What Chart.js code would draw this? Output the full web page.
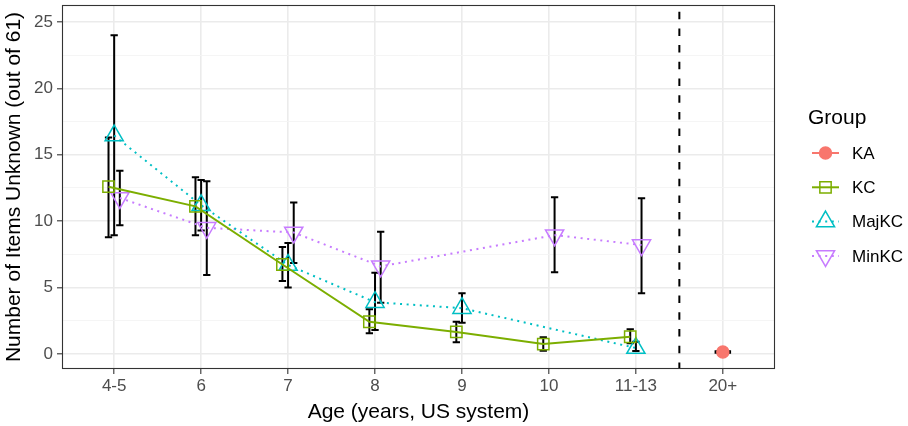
<!DOCTYPE html>
<html><head><meta charset="utf-8">
<script src="https://cdn.jsdelivr.net/npm/chart.js@4.4.0/dist/chart.umd.min.js"></script>
<style>html,body{margin:0;padding:0;background:#fff;}#wrap{width:908px;height:426px;}</style>
</head><body><div id="wrap"><canvas id="c" width="908" height="426"></canvas></div>
<script>
// ---- data ----
const categories = ['4-5', '6', '7', '8', '9', '10', '11-13', '20+'];
const groups = ['KA', 'KC', 'MajKC', 'MinKC'];
const yTicks = [0, 5, 10, 15, 20, 25];

const kaMean  = [null, null, null, null, null, null, null, 0.15];
const kaLow   = [null, null, null, null, null, null, null, 0.1];
const kaHigh  = [null, null, null, null, null, null, null, 0.2];

const kcMean  = [12.6, 11.12, 6.74, 2.43, 1.66, 0.75, 1.3, null];
const kcLow   = [8.8, 8.95, 5.5, 1.56, 0.88, 0.25, 0.8, null];
const kcHigh  = [16.3, 13.3, 8.05, 3.36, 2.43, 1.26, 1.86, null];

const majMean = [16.45, 11.2, 6.7, 3.9, 3.45, null, 0.45, null];
const majLow  = [8.95, 9.3, 5.0, 1.8, 2.36, null, 0.23, null];
const majHigh = [24.0, 13.1, 8.35, 6.12, 4.57, null, 0.93, null];

const minMean = [11.75, 9.5, 9.15, 6.6, null, 8.95, 8.2, null];
const minLow  = [9.7, 5.95, 6.85, 3.86, null, 6.15, 4.57, null];
const minHigh = [13.8, 13.0, 11.4, 9.21, null, 11.8, 11.72, null];

const separatorAt = 7.5; // between '11-13' and '20+'

// ---- styling ----
const FONT = '"Liberation Sans", Arial, Helvetica, sans-serif';
const COLORS = {KA: '#F8766D', KC: '#7CAE00', MajKC: '#00BFC4', MinKC: '#C77CFF'};
const DODGE = {KA: 0, KC: -0.065, MajKC: 0, MinKC: 0.065};
const CAP = {KA: 0.095, KC: 0.042, MajKC: 0.042, MinKC: 0.042};

function toPoints(means, off) {
  const out = [];
  means.forEach((v, i) => { if (v !== null) out.push({x: i + 1 + off, y: v}); });
  return out;
}

const series = [
  {name: 'KA', mean: kaMean, low: kaLow, high: kaHigh, style: 'circle', radius: 6, rot: 0, fill: COLORS.KA, dash: []},
  {name: 'KC', mean: kcMean, low: kcLow, high: kcHigh, style: 'rect', radius: 8, rot: 0, fill: 'rgba(0,0,0,0)', dash: []},
  {name: 'MajKC', mean: majMean, low: majLow, high: majHigh, style: 'triangle', radius: 10.5, rot: 0, fill: 'rgba(0,0,0,0)', dash: [2, 4.6]},
  {name: 'MinKC', mean: minMean, low: minLow, high: minHigh, style: 'triangle', radius: 10.5, rot: 180, fill: 'rgba(0,0,0,0)', dash: [2, 4.6]}
];

const datasets = series.map(s => ({
  label: s.name,
  data: toPoints(s.mean, DODGE[s.name]),
  showLine: true,
  borderColor: COLORS[s.name],
  backgroundColor: COLORS[s.name],
  borderWidth: 2,
  borderDash: s.dash,
  borderCapStyle: 'butt',
  tension: 0,
  pointStyle: s.style,
  pointRadius: s.radius,
  pointRotation: s.rot,
  pointBorderWidth: 1.5,
  pointBorderColor: COLORS[s.name],
  pointBackgroundColor: s.fill,
  pointHoverRadius: s.radius
}));

const errorBarPlugin = {
  id: 'errorBars',
  beforeDatasetsDraw(chart) {
    const {ctx, scales: {x, y}} = chart;
    ctx.save();
    ctx.strokeStyle = '#000';
    ctx.lineWidth = 2;
    ctx.lineCap = 'butt';
    series.forEach(s => {
      s.low.forEach((lo, i) => {
        const hi = s.high[i];
        if (lo === null || hi === null) return;
        const xc = i + 1 + DODGE[s.name];
        const px = x.getPixelForValue(xc);
        const pl = x.getPixelForValue(xc - CAP[s.name]);
        const pr = x.getPixelForValue(xc + CAP[s.name]);
        const yl = y.getPixelForValue(lo), yh = y.getPixelForValue(hi);
        ctx.beginPath();
        ctx.moveTo(px, yl); ctx.lineTo(px, yh);
        ctx.moveTo(pl, yl); ctx.lineTo(pr, yl);
        ctx.moveTo(pl, yh); ctx.lineTo(pr, yh);
        ctx.stroke();
      });
    });
    // separator line
    const sx = x.getPixelForValue(separatorAt);
    const a = chart.chartArea;
    ctx.setLineDash([7.5, 9.2]);
    ctx.lineDashOffset = 10;
    ctx.lineWidth = 2;
    ctx.beginPath();
    ctx.moveTo(sx, a.top); ctx.lineTo(sx, a.bottom);
    ctx.stroke();
    ctx.restore();
  }
};

const frameLegendPlugin = {
  id: 'frameLegend',
  afterDraw(chart) {
    const {ctx, chartArea: a} = chart;
    ctx.save();
    ctx.strokeStyle = '#333333';
    ctx.lineWidth = 1.1;
    ctx.strokeRect(a.left + 0.5, a.top + 0.5, a.right - a.left - 1, a.bottom - a.top - 1);
    // legend
    ctx.fillStyle = '#000';
    ctx.textBaseline = 'middle';
    ctx.textAlign = 'left';
    ctx.font = '21px ' + FONT;
    ctx.fillText('Group', 808, 118);
    ctx.font = '17px ' + FONT;
    series.forEach((s, i) => {
      const yy = 153 + i * 34.3;
      ctx.save();
      ctx.strokeStyle = COLORS[s.name];
      ctx.lineWidth = 2;
      ctx.lineCap = 'butt';
      ctx.setLineDash(s.dash);
      ctx.beginPath();
      ctx.moveTo(812, yy); ctx.lineTo(839, yy);
      ctx.stroke();
      ctx.setLineDash([]);
      ctx.fillStyle = s.fill;
      ctx.lineWidth = 1.5;
      Chart.helpers.drawPoint(ctx, {pointStyle: s.style, rotation: s.rot, radius: s.radius, borderWidth: 1.5}, 825.5, yy);
      ctx.restore();
      ctx.fillStyle = '#000';
      ctx.fillText(s.name, 852, yy + 1);
    });
    ctx.restore();
  }
};

function noPad(s) {
  s.paddingTop = 0; s.paddingBottom = 0; s.paddingLeft = 0; s.paddingRight = 0;
}

new Chart(document.getElementById('c'), {
  type: 'scatter',
  data: {datasets},
  plugins: [errorBarPlugin, frameLegendPlugin],
  options: {
    responsive: false,
    animation: false,
    devicePixelRatio: 1,
    layout: {autoPadding: false, padding: {left: 0, right: 133, top: 5, bottom: 0}},
    plugins: {legend: {display: false}, tooltip: {enabled: false}},
    scales: {
      x: {
        type: 'linear', min: 0.4, max: 8.6,
        afterBuildTicks: s => { s.ticks = categories.map((c, i) => ({value: i + 1})); },
        afterFit: s => { s.height = 57; noPad(s); },
        ticks: {
          autoSkip: false, maxRotation: 0, padding: 2,
          color: '#4D4D4D', font: {size: 17, family: FONT},
          callback: v => categories[v - 1] ?? ''
        },
        grid: {color: '#EBEBEB', lineWidth: 1.6, tickLength: 5, tickColor: '#333333', tickWidth: 1.1},
        border: {display: false},
        title: {display: true, text: 'Age (years, US system)', color: '#000', font: {size: 21, family: FONT}, padding: {top: 0, bottom: 1}}
      },
      y: {
        type: 'linear', min: -1.13, max: 26.28,
        afterBuildTicks: s => {
          const t = [];
          for (let i = 0; i < yTicks.length; i++) {
            t.push({value: yTicks[i]});
            if (i < yTicks.length - 1) t.push({value: (yTicks[i] + yTicks[i + 1]) / 2});
          }
          s.ticks = t;
        },
        afterFit: s => { s.width = 62; noPad(s); },
        ticks: {
          padding: 4, color: '#4D4D4D', font: {size: 17, family: FONT},
          callback: v => (yTicks.includes(v) ? String(v) : '')
        },
        grid: {
          color: c => (yTicks.includes(c.tick && c.tick.value) ? '#EBEBEB' : '#F4F4F4'),
          lineWidth: c => (yTicks.includes(c.tick && c.tick.value) ? 1.6 : 0.9),
          tickLength: 5,
          tickColor: c => (yTicks.includes(c.tick && c.tick.value) ? '#333333' : 'rgba(0,0,0,0)'),
          tickWidth: 1.1
        },
        border: {display: false},
        title: {display: true, text: 'Number of Items Unknown (out of 61)', color: '#000', font: {size: 21, family: FONT}, padding: {top: 2, bottom: 0}}
      }
    }
  }
});
</script></body></html>
